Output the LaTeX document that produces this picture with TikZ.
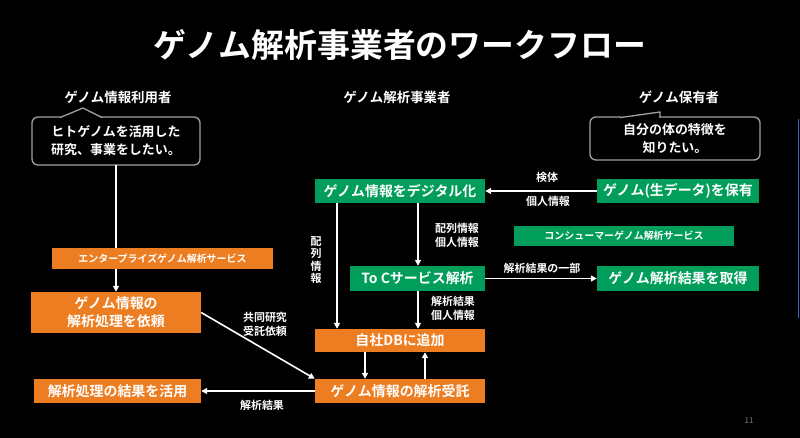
\documentclass[tikz,border=0pt]{standalone}
\usepackage{fontspec}
\setmainfont{Noto Sans CJK JP}[BoldFont={Noto Sans CJK JP Bold}]
\usetikzlibrary{arrows.meta}
\definecolor{boxorange}{RGB}{237,125,33}
\definecolor{boxgreen}{RGB}{0,158,90}
\definecolor{calloutgray}{RGB}{160,160,160}
\definecolor{edgeblue}{RGB}{60,100,190}
\tikzset{
  box/.style={fill=#1, text=white, inner sep=0pt, align=center, font=\fontsize{14}{18}\selectfont\bfseries},
  banner/.style={fill=#1, text=white, inner sep=0pt, align=center, font=\fontsize{10}{12}\selectfont\bfseries},
  lbl/.style={text=white, inner sep=0pt, align=center, font=\fontsize{11}{14}\selectfont\bfseries},
  grp/.style={text=white, inner sep=0pt, font=\fontsize{13.5}{16}\selectfont\bfseries},
  need/.style={text=white, inner sep=0pt, align=center, font=\fontsize{13}{18}\selectfont\bfseries},
  callout/.style={draw=calloutgray, line width=1.3pt},
  arr/.style={draw=white, line width=1.6pt, -{Triangle[length=6pt,width=6pt]}},
}
\begin{document}
\begin{tikzpicture}[x=1bp,y=-1bp]
\fill[black] (0,0) rectangle (800,438);
\useasboundingbox (0,0) rectangle (800,438);
\draw[edgeblue, line width=1pt] (798.5,119) -- (798.5,318);

% title
\node[text=white, font=\fontsize{33}{36}\selectfont\bfseries] (title) at (400,45) {ゲノム解析事業者のワークフロー};

% group labels
\node[grp] (gUser) at (118,97) {ゲノム情報利用者};
\node[grp] (gBiz) at (397,97) {ゲノム解析事業者};
\node[grp] (gOwner) at (679,97) {ゲノム保有者};

% callouts
\draw[callout, rounded corners=6pt] (32,117) rectangle (200,165);
\draw[black, line width=2.5pt] (61,117) -- (101,117);
\draw[callout, line join=miter] (60,117.6) -- (83,108) -- (102,117.6);
\node[need, minimum width=168bp, minimum height=48bp] (needL) at (116,141) {ヒトゲノムを活用した\\研究、事業をしたい。};
\draw[callout, rounded corners=6pt] (590,117) rectangle (760,160);
\draw[black, line width=2.5pt] (621,117) -- (659.4,117);
\draw[callout, line join=miter] (620,117.6) -- (660,112) -- (660,117.6);
\node[need, minimum width=170bp, minimum height=43bp] (needR) at (675,138.5) {自分の体の特徴を\\知りたい。};

% boxes
\node[box=boxgreen, minimum width=170bp, minimum height=24bp] (digi) at (400,191) {ゲノム情報をデジタル化};
\node[box=boxgreen, minimum width=162bp, minimum height=24bp] (hold) at (678,191) {ゲノム(生データ)を保有};
\node[box=boxgreen, minimum width=135bp, minimum height=25bp] (toc) at (417.5,278.5) {To Cサービス解析};
\node[box=boxgreen, minimum width=162bp, minimum height=25bp] (get) at (678,278.5) {ゲノム解析結果を取得};
\node[banner=boxgreen, minimum width=220bp, minimum height=20bp] (cons) at (624,236) {コンシューマーゲノム解析サービス};
\node[box=boxorange, minimum width=170bp, minimum height=23bp] (db) at (400,340.5) {自社DBに追加};
\node[box=boxorange, minimum width=170bp, minimum height=24bp] (jutaku) at (400,391) {ゲノム情報の解析受託};
\node[box=boxorange, minimum width=170bp, minimum height=41bp] (irai) at (116,312.5) {ゲノム情報の\\解析処理を依頼};
\node[box=boxorange, minimum width=167bp, minimum height=24bp] (katsuyo) at (117.5,391) {解析処理の結果を活用};

% arrows
\draw[arr] (needL.south) -- (irai.north);
\node[banner=boxorange, minimum width=221bp, minimum height=21bp] (ent) at (162.5,258.5) {エンタープライズゲノム解析サービス};

\draw[arr] (hold.west) -- (digi.east);
\draw[arr] ([xshift=18bp]digi.south) -- ([xshift=0.5bp]toc.north);
\draw[arr] ([xshift=-63bp]digi.south) -- ([xshift=-63bp]db.north);
\draw[arr] (toc.east) -- (get.west);
\draw[arr] ([xshift=0.5bp]toc.south) -- ([xshift=18bp]db.north);
\draw[arr] ([xshift=-35bp]db.south) -- ([xshift=-35bp]jutaku.north);
\draw[arr] ([xshift=25bp]jutaku.north) -- ([xshift=25bp]db.south);
\draw[arr] (irai.east) -- (jutaku.north west);
\draw[arr] (jutaku.west) -- (katsuyo.east);

% labels
\node[lbl] (lKentai) at (547,177) {検体};
\node[lbl] (lKojin) at (548,201) {個人情報};
\node[lbl] (lHairetsu) at (457,235.5) {配列情報\\個人情報};
\node[lbl, font=\fontsize{11}{12.5}\selectfont\bfseries] (lVert) at (316,260) {配\\列\\情\\報};
\node[lbl] (lIchibu) at (542,268) {解析結果の一部};
\node[lbl] (lKekka) at (453,308) {解析結果\\個人情報};
\node[lbl] (lKyodo) at (265,324) {共同研究\\受託依頼};
\node[lbl] (lResult) at (262,405) {解析結果};

\node[text=gray, font=\fontsize{8}{9}\selectfont] (page) at (749,421) {11};
\end{tikzpicture}
\end{document}
